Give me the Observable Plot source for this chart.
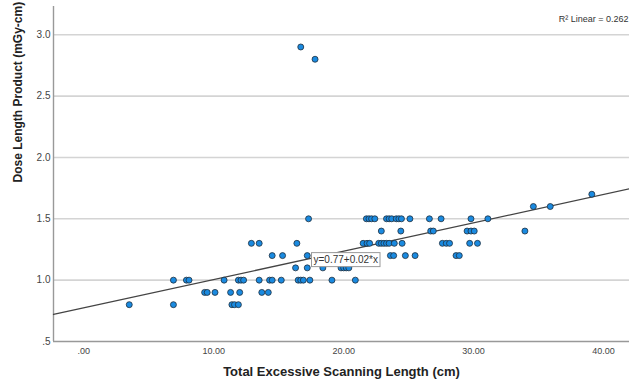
<!DOCTYPE html>
<html><head><meta charset="utf-8">
<script src="https://cdn.jsdelivr.net/npm/d3@7"></script>
<script src="https://cdn.jsdelivr.net/npm/@observablehq/plot@0.6"></script>
<style>
html,body{margin:0;padding:0;background:#fff;}
#chart{width:629px;height:385px;overflow:hidden;}
</style>
</head><body><div id="chart"></div>
<script>
// Total excessive scanning length (cm)
const scanLength = [
  3.5, 6.9, 11.4, 11.6, 11.9,
  9.3, 9.5, 10.1, 11.3, 12.0, 13.7, 14.2,
  6.9, 7.9, 8.1, 10.8, 11.9, 12.1, 12.3, 13.5, 14.3, 14.5, 15.2, 16.5, 16.7, 16.9, 17.4, 19.1, 20.9,
  16.3, 17.2, 18.4, 19.8, 20.0, 20.2, 20.4,
  14.5, 15.3, 17.2, 23.6, 23.85, 24.75, 25.5, 28.65, 28.9,
  12.9, 13.5, 16.4, 21.5, 21.8, 22.0, 22.7, 22.9, 23.1, 23.3, 23.5, 23.9, 24.5, 27.6, 27.9, 28.15, 29.7, 30.3,
  22.9, 24.4, 26.7, 26.9, 29.5, 29.8, 30.05, 33.95,
  17.3, 21.75, 21.95, 22.15, 22.4, 23.3, 23.5, 23.7, 24.05, 24.25, 24.45, 25.1, 26.6, 27.5, 29.8, 31.1,
  34.6, 35.9,
  39.1,
  17.8,
  16.7
];
// Dose length product (mGy-cm)
const dlp = [
  0.8, 0.8, 0.8, 0.8, 0.8,
  0.9, 0.9, 0.9, 0.9, 0.9, 0.9, 0.9,
  1.0, 1.0, 1.0, 1.0, 1.0, 1.0, 1.0, 1.0, 1.0, 1.0, 1.0, 1.0, 1.0, 1.0, 1.0, 1.0, 1.0,
  1.1, 1.1, 1.1, 1.1, 1.1, 1.1, 1.1,
  1.2, 1.2, 1.2, 1.2, 1.2, 1.2, 1.2, 1.2, 1.2,
  1.3, 1.3, 1.3, 1.3, 1.3, 1.3, 1.3, 1.3, 1.3, 1.3, 1.3, 1.3, 1.3, 1.3, 1.3, 1.3, 1.3, 1.3,
  1.4, 1.4, 1.4, 1.4, 1.4, 1.4, 1.4, 1.4,
  1.5, 1.5, 1.5, 1.5, 1.5, 1.5, 1.5, 1.5, 1.5, 1.5, 1.5, 1.5, 1.5, 1.5, 1.5, 1.5,
  1.6, 1.6,
  1.7,
  2.8,
  2.9
];
const xTicks = [0, 10, 20, 30, 40];
const xTickLabels = [".00", "10.00", "20.00", "30.00", "40.00"];
const yTicks = [0.5, 1.0, 1.5, 2.0, 2.5, 3.0];
const yTickLabels = [".5", "1.0", "1.5", "2.0", "2.5", "3.0"];
const xDomain = [-2.33, 42.0];
const yDomain = [0.5, 3.23];
const fitIntercept = 0.774;
const fitSlope = 0.0231;
const fitLabel = "y=0.77+0.02*x";
const fitLabelAt = 17.45;
const r2Text = "R\u00B2 Linear = 0.262";
const r2Y = 3.13;
const xTitle = "Total Excessive Scanning Length (cm)";
const yTitle = "Dose Length Product (mGy-cm)";

const points = scanLength.map((x, i) => ({x, y: dlp[i]}));
const fitLine = xDomain.map(x => ({x, y: fitIntercept + fitSlope * x}));
const fitAnchor = [{x: fitLabelAt, y: fitIntercept + fitSlope * fitLabelAt, label: fitLabel}];

const xFmt = d => xTickLabels[xTicks.indexOf(d)];
const yFmt = d => yTickLabels[yTicks.findIndex(t => Math.abs(t - d) < 1e-9)];

const chart = Plot.plot({
  width: 629,
  height: 385,
  marginLeft: 53,
  marginRight: 0,
  marginTop: 6,
  marginBottom: 44,
  style: {fontFamily: "'Liberation Sans', Arial, sans-serif", background: "#fff", color: "#333"},
  x: {domain: xDomain},
  y: {domain: yDomain},
  marks: [
    Plot.gridY(yTicks.slice(1), {stroke: "#d4d4d4", strokeOpacity: 1, strokeWidth: 1.6}),
    Plot.axisX(xTicks, {tickSize: 0, tickPadding: 6, tickFormat: xFmt, fontSize: 9, fill: "#444", label: null}),
    Plot.axisY(yTicks, {tickSize: 0, tickPadding: 3, tickFormat: yFmt, fontSize: 10, fill: "#444", label: null}),
    Plot.ruleX([xDomain[0]], {stroke: "#999", strokeWidth: 1.4}),
    Plot.ruleY([yDomain[0]], {stroke: "#999", strokeWidth: 1.4}),
    Plot.line(fitLine, {x: "x", y: "y", stroke: "#444", strokeWidth: 1.3}),
    Plot.dot(points, {x: "x", y: "y", r: 3, fill: "#1a8ae0", stroke: "#1e2e3e", strokeWidth: 0.8}),
    Plot.text(fitAnchor, {x: "x", y: "y", text: "label", textAnchor: "start", dx: 3, dy: 1.5, fontSize: 10, fill: "#333"}),
    Plot.text([r2Text], {x: () => xDomain[1], y: () => r2Y, text: d => d, textAnchor: "end", dx: -1, fontSize: 9, fill: "#333"}),
    Plot.text([xTitle], {frameAnchor: "bottom", text: d => d, dy: 34, fontSize: 13, fontWeight: "bold", fill: "#222"}),
    Plot.text([yTitle], {frameAnchor: "left", text: d => d, rotate: -90, dx: -35, dy: 8.5, fontSize: 12, fontWeight: "bold", fill: "#222"})
  ]
});
document.getElementById("chart").appendChild(chart);

// white framed box behind the fit equation label
chart.querySelectorAll("text").forEach(t => {
  if (t.textContent === fitLabel) {
    const b = t.getBBox();
    const ns = "http://www.w3.org/2000/svg";
    const rect = document.createElementNS(ns, "rect");
    rect.setAttribute("x", b.x - 2);
    rect.setAttribute("y", b.y - 1.5);
    rect.setAttribute("width", b.width + 4);
    rect.setAttribute("height", b.height + 3);
    rect.setAttribute("fill", "#fff");
    rect.setAttribute("stroke", "#9a9a9a");
    rect.setAttribute("stroke-width", "1");
    const ctm = t.getAttribute("transform");
    if (ctm) rect.setAttribute("transform", ctm);
    t.parentNode.insertBefore(rect, t);
  }
});
</script>
</body></html>
